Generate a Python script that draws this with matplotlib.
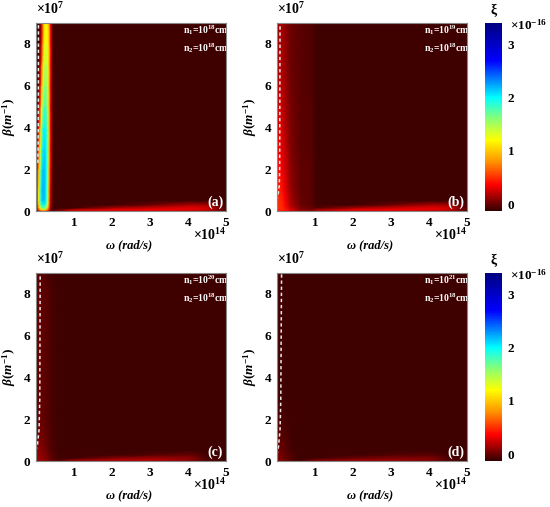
import numpy as np
import matplotlib.pyplot as plt
from matplotlib.colors import LinearSegmentedColormap

# omega in units of 1e14 rad/s, beta in units of 1e7 1/m, xi in units of 1e-16
beta_nodes = [0, 0.06, 0.15, 0.3, 0.5, 1, 2, 3, 4, 5, 6, 7, 8, 9]

omega_a = [0, 0.03, 0.07, 0.11, 0.15, 0.19, 0.23, 0.27, 0.31, 0.35, 0.39, 0.44, 0.5,
           1, 2, 3, 4, 4.5, 5]
xi_a = [
    [-0.04, 0.02, 0.19, 0.36, 0.46, 0.49, 0.48, 0.42, 0.27, 0.10, -0.03, -0.08, -0.05,
     0.2, 0.2, 0.2, 0.15, 0.1, -0.1],
    [0.02, 0.14, 0.49, 0.82, 1.02, 1.09, 1.06, 0.93, 0.64, 0.30, 0.03, -0.06, 0.0,
     0.3, 0.35, 0.35, 0.3, 0.25, -0.05],
    [0.08, 0.26, 0.78, 1.29, 1.57, 1.68, 1.65, 1.45, 1.02, 0.49, 0.10, -0.05, -0.1,
     -0.1, 0.15, 0.25, 0.3, 0.25, -0.05],
    [0.12, 0.34, 0.98, 1.59, 1.90, 2.00, 1.96, 1.75, 1.26, 0.63, 0.14, -0.03, -0.1,
     -0.1, -0.1, 0.0, 0.15, 0.15, -0.1],
    [0.15, 0.39, 1.10, 1.75, 2.06, 2.18, 2.14, 1.92, 1.42, 0.71, 0.17, -0.03, -0.1,
     -0.1, -0.1, -0.1, -0.1, -0.1, -0.1],
    [0.15, 0.40, 1.13, 1.78, 2.10, 2.22, 2.18, 1.95, 1.45, 0.73, 0.18, -0.03, -0.1,
     -0.1, -0.1, -0.1, -0.1, -0.1, -0.1],
    [0.05, 0.27, 0.83, 1.52, 2.02, 2.16, 2.16, 2.02, 1.52, 0.83, 0.27, -0.03, -0.1,
     -0.1, -0.1, -0.1, -0.1, -0.1, -0.1],
    [-0.01, 0.11, 0.52, 1.21, 1.78, 2.04, 2.10, 1.96, 1.58, 0.89, 0.29, -0.01, -0.1,
     -0.1, -0.1, -0.1, -0.1, -0.1, -0.1],
    [-0.06, 0.01, 0.29, 0.93, 1.56, 1.90, 2.00, 1.90, 1.56, 0.93, 0.29, -0.01, -0.1,
     -0.1, -0.1, -0.1, -0.1, -0.1, -0.1],
    [-0.1, -0.04, 0.11, 0.55, 1.21, 1.63, 1.78, 1.72, 1.46, 0.89, 0.28, 0.0, -0.1,
     -0.1, -0.1, -0.1, -0.1, -0.1, -0.1],
    [-0.1, -0.08, 0.02, 0.29, 0.87, 1.36, 1.57, 1.57, 1.36, 0.87, 0.29, -0.02, -0.1,
     -0.1, -0.1, -0.1, -0.1, -0.1, -0.1],
    [-0.1, -0.1, -0.04, 0.15, 0.60, 1.14, 1.39, 1.43, 1.31, 0.88, 0.33, -0.01, -0.1,
     -0.1, -0.1, -0.1, -0.1, -0.1, -0.1],
    [-0.1, -0.1, -0.07, 0.03, 0.36, 0.88, 1.19, 1.30, 1.19, 0.88, 0.36, -0.02, -0.1,
     -0.1, -0.1, -0.1, -0.1, -0.1, -0.1],
    [-0.1, -0.1, -0.09, 0.0, 0.29, 0.76, 1.10, 1.20, 1.10, 0.76, 0.29, -0.04, -0.1,
     -0.1, -0.1, -0.1, -0.1, -0.1, -0.1],
]

omega_b = [0, 0.04, 0.1, 0.2, 0.35, 0.6, 0.9, 1.05, 2, 3, 4, 4.5, 5]
xi_b = [
    [0.3, 0.4, 0.4, 0.35, 0.25, 0.1, 0.05, 0.1, 0.2, 0.2, 0.15, 0.1, -0.1],
    [0.35, 0.45, 0.5, 0.45, 0.3, 0.1, 0.05, 0.2, 0.35, 0.35, 0.3, 0.25, -0.05],
    [0.35, 0.5, 0.5, 0.42, 0.25, 0.05, 0.0, -0.05, 0.15, 0.25, 0.3, 0.25, -0.05],
    [0.35, 0.5, 0.5, 0.4, 0.2, 0.02, -0.03, -0.08, -0.1, 0.0, 0.15, 0.15, -0.1],
    [0.3, 0.48, 0.48, 0.37, 0.17, 0.0, -0.03, -0.1, -0.1, -0.1, -0.1, -0.1, -0.1],
    [0.25, 0.43, 0.44, 0.32, 0.13, -0.01, -0.03, -0.1, -0.1, -0.1, -0.1, -0.1, -0.1],
    [0.2, 0.37, 0.38, 0.27, 0.1, -0.01, -0.03, -0.1, -0.1, -0.1, -0.1, -0.1, -0.1],
    [0.15, 0.32, 0.33, 0.23, 0.07, -0.02, -0.04, -0.1, -0.1, -0.1, -0.1, -0.1, -0.1],
    [0.12, 0.28, 0.3, 0.2, 0.05, -0.02, -0.04, -0.1, -0.1, -0.1, -0.1, -0.1, -0.1],
    [0.1, 0.24, 0.26, 0.17, 0.04, -0.02, -0.04, -0.1, -0.1, -0.1, -0.1, -0.1, -0.1],
    [0.08, 0.2, 0.22, 0.15, 0.03, -0.03, -0.05, -0.1, -0.1, -0.1, -0.1, -0.1, -0.1],
    [0.06, 0.17, 0.2, 0.13, 0.02, -0.03, -0.05, -0.1, -0.1, -0.1, -0.1, -0.1, -0.1],
    [0.05, 0.15, 0.18, 0.12, 0.02, -0.03, -0.05, -0.1, -0.1, -0.1, -0.1, -0.1, -0.1],
    [0.04, 0.13, 0.16, 0.1, 0.01, -0.03, -0.05, -0.1, -0.1, -0.1, -0.1, -0.1, -0.1],
]

omega_cd = [0, 0.05, 0.12, 0.25, 0.4, 0.6, 1, 2, 3, 4, 4.5, 5]
xi_c = [
    [0.05, 0.1, 0.1, 0.05, 0.0, -0.05, 0.05, 0.1, 0.1, 0.05, -0.05, -0.1],
    [0.1, 0.12, 0.12, 0.08, 0.0, -0.05, 0.12, 0.2, 0.2, 0.1, -0.05, -0.1],
    [0.1, 0.12, 0.12, 0.07, -0.02, -0.08, -0.1, 0.05, 0.12, 0.1, -0.05, -0.1],
    [0.1, 0.12, 0.1, 0.05, -0.03, -0.08, -0.1, -0.1, -0.05, 0.0, -0.1, -0.1],
    [0.08, 0.1, 0.08, 0.03, -0.05, -0.1, -0.1, -0.1, -0.1, -0.1, -0.1, -0.1],
    [0.02, 0.05, 0.05, 0.0, -0.06, -0.1, -0.1, -0.1, -0.1, -0.1, -0.1, -0.1],
    [-0.05, 0.0, 0.0, -0.03, -0.07, -0.1, -0.1, -0.1, -0.1, -0.1, -0.1, -0.1],
    [-0.05, 0.0, 0.0, -0.03, -0.07, -0.1, -0.1, -0.1, -0.1, -0.1, -0.1, -0.1],
    [-0.05, 0.0, 0.0, -0.03, -0.07, -0.1, -0.1, -0.1, -0.1, -0.1, -0.1, -0.1],
    [-0.05, 0.0, 0.0, -0.03, -0.07, -0.1, -0.1, -0.1, -0.1, -0.1, -0.1, -0.1],
    [-0.05, 0.0, 0.0, -0.03, -0.07, -0.1, -0.1, -0.1, -0.1, -0.1, -0.1, -0.1],
    [-0.05, 0.0, 0.0, -0.03, -0.07, -0.1, -0.1, -0.1, -0.1, -0.1, -0.1, -0.1],
    [-0.05, 0.0, 0.0, -0.03, -0.07, -0.1, -0.1, -0.1, -0.1, -0.1, -0.1, -0.1],
    [-0.06, -0.02, -0.02, -0.05, -0.08, -0.1, -0.1, -0.1, -0.1, -0.1, -0.1, -0.1],
]
xi_d = [
    [0.0, 0.05, 0.05, 0.0, -0.05, -0.08, 0.0, 0.05, 0.05, 0.02, -0.05, -0.1],
    [0.02, 0.05, 0.05, 0.0, -0.05, -0.08, 0.05, 0.12, 0.12, 0.08, -0.05, -0.1],
    [0.02, 0.05, 0.04, -0.01, -0.05, -0.09, -0.1, 0.0, 0.06, 0.06, -0.05, -0.1],
    [0.0, 0.05, 0.03, -0.02, -0.06, -0.1, -0.1, -0.1, -0.06, -0.03, -0.1, -0.1],
    [-0.02, 0.03, 0.02, -0.04, -0.08, -0.1, -0.1, -0.1, -0.1, -0.1, -0.1, -0.1],
    [-0.05, 0.0, -0.02, -0.06, -0.09, -0.1, -0.1, -0.1, -0.1, -0.1, -0.1, -0.1],
    [-0.08, -0.05, -0.06, -0.08, -0.1, -0.1, -0.1, -0.1, -0.1, -0.1, -0.1, -0.1],
    [-0.09, -0.08, -0.08, -0.09, -0.1, -0.1, -0.1, -0.1, -0.1, -0.1, -0.1, -0.1],
    [-0.09, -0.08, -0.08, -0.09, -0.1, -0.1, -0.1, -0.1, -0.1, -0.1, -0.1, -0.1],
    [-0.09, -0.08, -0.08, -0.09, -0.1, -0.1, -0.1, -0.1, -0.1, -0.1, -0.1, -0.1],
    [-0.09, -0.08, -0.08, -0.09, -0.1, -0.1, -0.1, -0.1, -0.1, -0.1, -0.1, -0.1],
    [-0.09, -0.08, -0.08, -0.09, -0.1, -0.1, -0.1, -0.1, -0.1, -0.1, -0.1, -0.1],
    [-0.09, -0.08, -0.08, -0.09, -0.1, -0.1, -0.1, -0.1, -0.1, -0.1, -0.1, -0.1],
    [-0.09, -0.08, -0.08, -0.09, -0.1, -0.1, -0.1, -0.1, -0.1, -0.1, -0.1, -0.1],
]

# dashed curves (omega, beta)
dash_a_beta = [2.3, 4, 6, 9]
dash_a_omega = [0.05, 0.06, 0.063, 0.065]
dash_b_beta = [0.5, 0.8, 1.2, 2, 9]
dash_b_omega = [0.0, 0.03, 0.06, 0.07, 0.08]
dash_c_beta = [0.5, 0.8, 1.5, 3, 9]
dash_c_omega = [0.0, 0.04, 0.08, 0.1, 0.11]
dash_d_beta = [0.3, 0.7, 1.5, 3, 9]
dash_d_omega = [0.0, 0.04, 0.08, 0.1, 0.12]

n1_labels = ['18', '19', '20', '21']
panel_labels = ['(a)', '(b)', '(c)', '(d)']
cbar_ticks = [0, 1, 2, 3]
vmin, vmax = -0.13, 3.4

cmap_nodes = [
    (0.0, (0.2, 0.0, 0.0)),
    (0.139, (1.0, 0.0, 0.0)),
    (0.255, (1.0, 0.55, 0.0)),
    (0.377, (1.0, 1.0, 0.0)),
    (0.5, (0.5, 1.0, 0.5)),
    (0.603, (0.0, 1.0, 1.0)),
    (0.8, (0.0, 0.0, 1.0)),
    (1.0, (0.0, 0.0, 0.5)),
]
cmap = LinearSegmentedColormap.from_list('xi', cmap_nodes)

plt.rcParams['font.family'] = 'Liberation Serif'
plt.rcParams['font.weight'] = 'bold'
plt.rcParams['mathtext.fontset'] = 'custom'
plt.rcParams['mathtext.rm'] = 'Liberation Serif:bold'
plt.rcParams['mathtext.bf'] = 'Liberation Serif:bold'
plt.rcParams['mathtext.it'] = 'Liberation Serif:italic'

fig = plt.figure(figsize=(5.5, 5.07), dpi=100)
W, H = 550, 507
lefts = [36, 277, 36, 277]
tops = [23, 23, 273, 273]
aw, ah = 190, 188

panels = [
    (omega_a, xi_a, dash_a_omega, dash_a_beta),
    (omega_b, xi_b, dash_b_omega, dash_b_beta),
    (omega_cd, xi_c, dash_c_omega, dash_c_beta),
    (omega_cd, xi_d, dash_d_omega, dash_d_beta),
]

for i, (om, xi, dom, dbe) in enumerate(panels):
    ax = fig.add_axes([lefts[i] / W, 1 - (tops[i] + ah) / H, aw / W, ah / H])
    X, Y = np.meshgrid(om, beta_nodes)
    mesh = ax.pcolormesh(X, Y, np.array(xi), shading='gouraud', cmap=cmap,
                         vmin=vmin, vmax=vmax, rasterized=True)
    ax.plot(dom, dbe, color='#e8e8e8', lw=1.1, dashes=(2.2, 1.8))
    ax.set_xlim(0, 5)
    ax.set_ylim(0, 9)
    ax.set_xticks([1, 2, 3, 4, 5])
    ax.set_yticks([0, 2, 4, 6, 8])
    ax.tick_params(length=0, labelsize=9.5, pad=4)
    for s in ax.spines.values():
        s.set_color('#888888')
        s.set_linewidth(0.8)
    ax.text(0.0, 1.03, r'$\mathbf{\times10^{7}}$', transform=ax.transAxes,
            fontsize=10, ha='left', va='bottom')
    ax.text(1.0, -0.085, r'$\mathbf{\times10^{14}}$', transform=ax.transAxes,
            fontsize=10, ha='right', va='top')
    ax.text(0.49, -0.18, 'ω (rad/s)', transform=ax.transAxes,
            fontsize=9, ha='center', va='center', style='italic')
    ax.text(-0.14, 0.5, r'$\beta(m^{-1})$', transform=ax.transAxes,
            fontsize=9.5, ha='center', va='center', rotation=90)
    ax.text(0.775, 0.962, r'n$_1$=10$^{%s}$cm$^{-3}$' % n1_labels[i],
            transform=ax.transAxes, fontsize=7, color='white', ha='left',
            va='center', clip_on=True)
    ax.text(0.775, 0.866, r'n$_2$=10$^{18}$cm$^{-3}$',
            transform=ax.transAxes, fontsize=7, color='white', ha='left',
            va='center', clip_on=True)
    ax.text(0.985, 0.012, panel_labels[i], transform=ax.transAxes,
            fontsize=10, color='white', ha='right', va='bottom')

    if i in (1, 3):
        cax = fig.add_axes([485 / W, 1 - (tops[i] + ah) / H, 17 / W, ah / H])
        cb = fig.colorbar(mesh, cax=cax, ticks=cbar_ticks)
        cb.outline.set_visible(False)
        cax.tick_params(length=0, labelsize=9.5, pad=4)
        cax.text(0.5, 1.03, 'ξ', transform=cax.transAxes, fontsize=10,
                 ha='center', va='bottom')
        cax.text(1.45, 0.99, r'$\mathbf{\times10^{-16}}$', transform=cax.transAxes,
                 fontsize=9.5, ha='left', va='center')

fig.savefig('out.png', dpi=100)
